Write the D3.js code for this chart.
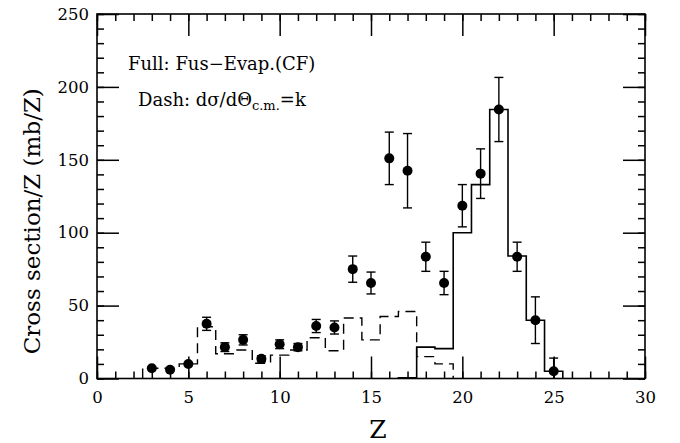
<!DOCTYPE html>
<html>
<head>
<meta charset="utf-8">
<script src="https://cdn.jsdelivr.net/npm/d3@7"></script>
<style>
  body { margin: 0; background: #fff; }
  text { font-family: "DejaVu Serif", serif; fill: #000; }
</style>
</head>
<body>
<svg id="chart" width="680" height="443"></svg>
<script>
// measured points (Z, cross section per Z, error)
var dataZ   = [3, 4, 5, 6, 7, 8, 9, 10, 11, 12, 13, 14, 15, 16, 17, 18, 19, 20, 21, 22, 23, 24, 25];
var dataVal = [7, 6, 10, 37.5, 21.5, 26.5, 13.5, 23.5, 21.5, 36, 35, 75, 65.5, 151, 142.5, 83.5, 65.5, 118.5, 140.5, 184.5, 83.5, 40, 5];
var dataErr = [0, 0, 0, 4.5, 3, 3.5, 2, 3, 2.5, 4.5, 4.5, 9, 7.5, 18, 25.5, 10, 8, 14.5, 17, 22, 10, 16, 9];

// full line: fusion-evaporation (CF)
var fullZ   = [17, 18, 19, 20, 21, 22, 23, 24, 25];
var fullVal = [0.5, 21.5, 20.5, 100, 133, 184.5, 84, 40, 5];

// dashed line: dsigma/dTheta = k
var dashZ   = [3, 4, 5, 6, 7, 8, 9, 10, 11, 12, 13, 14, 15, 16, 17, 18, 19];
var dashVal = [7, 7, 10, 35.5, 17, 19.5, 10.5, 16, 19.5, 28, 19, 41.5, 26.5, 42.5, 46, 15, 10];

var xMajor = [0, 5, 10, 15, 20, 25, 30];
var yMajor = [0, 50, 100, 150, 200, 250];

var svg = d3.select("#chart");
var x = d3.scaleLinear().domain([0, 30]).range([97, 645]);
var y = d3.scaleLinear().domain([0, 250]).range([378.5, 14]);

// step outline of a histogram with unit bins centred on Z
function stepPoints(zs, vs) {
    var pts = [[zs[0] - 0.5, 0]];
    zs.forEach(function(z, i) {
        pts.push([z - 0.5, vs[i]]);
        pts.push([z + 0.5, vs[i]]);
    });
    pts.push([zs[zs.length - 1] + 0.5, 0]);
    return pts;
}
var line = d3.line()
    .x(function(d) { return x(d[0]); })
    .y(function(d) { return y(d[1]); });

svg.append("path")
    .attr("d", line(stepPoints(dashZ, dashVal)))
    .attr("fill", "none")
    .attr("stroke", "#000")
    .attr("stroke-width", 1.4)
    .attr("stroke-dasharray", "10,6");

svg.append("path")
    .attr("d", line(stepPoints(fullZ, fullVal)))
    .attr("fill", "none")
    .attr("stroke", "#000")
    .attr("stroke-width", 1.6);

// axes: ticks inward on all four sides
function addAxis(axis, tx, ty, labels) {
    var g = svg.append("g")
        .attr("transform", "translate(" + tx + "," + ty + ")")
        .call(axis);
    g.select(".domain").remove();
    g.selectAll("line").attr("stroke", "#000").attr("stroke-width", 1.5);
    if (!labels) {
        g.selectAll("text").remove();
    } else {
        g.selectAll("text").attr("font-size", "16.5px").attr("font-family", "DejaVu Serif, serif");
    }
    return g;
}
var minorX = d3.range(0, 31, 1), minorY = d3.range(0, 251, 10);

addAxis(d3.axisBottom(x).tickValues(minorX).tickSize(-7), 0, y(0), false);
addAxis(d3.axisBottom(x).tickValues(xMajor).tickSize(-22).tickPadding(13).tickFormat(d3.format("d")), 0, y(0), true);
addAxis(d3.axisTop(x).tickValues(minorX).tickSize(-7), 0, y(250), false);
addAxis(d3.axisTop(x).tickValues(xMajor).tickSize(-22), 0, y(250), false);
addAxis(d3.axisLeft(y).tickValues(minorY).tickSize(-7), x(0), 0, false);
addAxis(d3.axisLeft(y).tickValues(yMajor).tickSize(-22).tickPadding(8).tickFormat(d3.format("d")), x(0), 0, true);
addAxis(d3.axisRight(y).tickValues(minorY).tickSize(-7), x(30), 0, false);
addAxis(d3.axisRight(y).tickValues(yMajor).tickSize(-22), x(30), 0, false);

svg.append("rect")
    .attr("x", x(0)).attr("y", y(250))
    .attr("width", x(30) - x(0)).attr("height", y(0) - y(250))
    .attr("fill", "none").attr("stroke", "#000").attr("stroke-width", 1.6);

// error bars and points
var pts = svg.append("g");
dataZ.forEach(function(z, i) {
    var v = dataVal[i], e = dataErr[i];
    if (e > 0) {
        var lo = Math.max(0, v - e), hi = v + e;
        pts.append("line").attr("x1", x(z)).attr("x2", x(z)).attr("y1", y(lo)).attr("y2", y(hi))
            .attr("stroke", "#000").attr("stroke-width", 1.4);
        [lo, hi].forEach(function(b) {
            if (b > 0) {
                pts.append("line").attr("x1", x(z) - 4.5).attr("x2", x(z) + 4.5)
                    .attr("y1", y(b)).attr("y2", y(b))
                    .attr("stroke", "#000").attr("stroke-width", 1.4);
            }
        });
    }
    pts.append("circle").attr("cx", x(z)).attr("cy", y(v)).attr("r", 5).attr("fill", "#000");
});

// labels
svg.append("text")
    .attr("x", 128).attr("y", 70)
    .attr("font-size", "18px")
    .text("Full: Fus\u2212Evap.(CF)");

var t2 = svg.append("text")
    .attr("x", 138).attr("y", 106)
    .attr("font-size", "18px");
t2.append("tspan").text("Dash: d\u03c3/d\u0398");
t2.append("tspan").attr("font-size", "13px").attr("dy", 4).text("c.m.");
t2.append("tspan").attr("dy", -4).text("=k");

svg.append("text")
    .attr("transform", "translate(40," + ((y(0) + y(250)) / 2 + 25) + ") rotate(-90)")
    .attr("text-anchor", "middle")
    .attr("font-size", "23px")
    .text("Cross section/Z (mb/Z)");

svg.append("text")
    .attr("x", 378).attr("y", 438)
    .attr("text-anchor", "middle")
    .attr("font-size", "25px")
    .text("Z");
</script>
</body>
</html>
